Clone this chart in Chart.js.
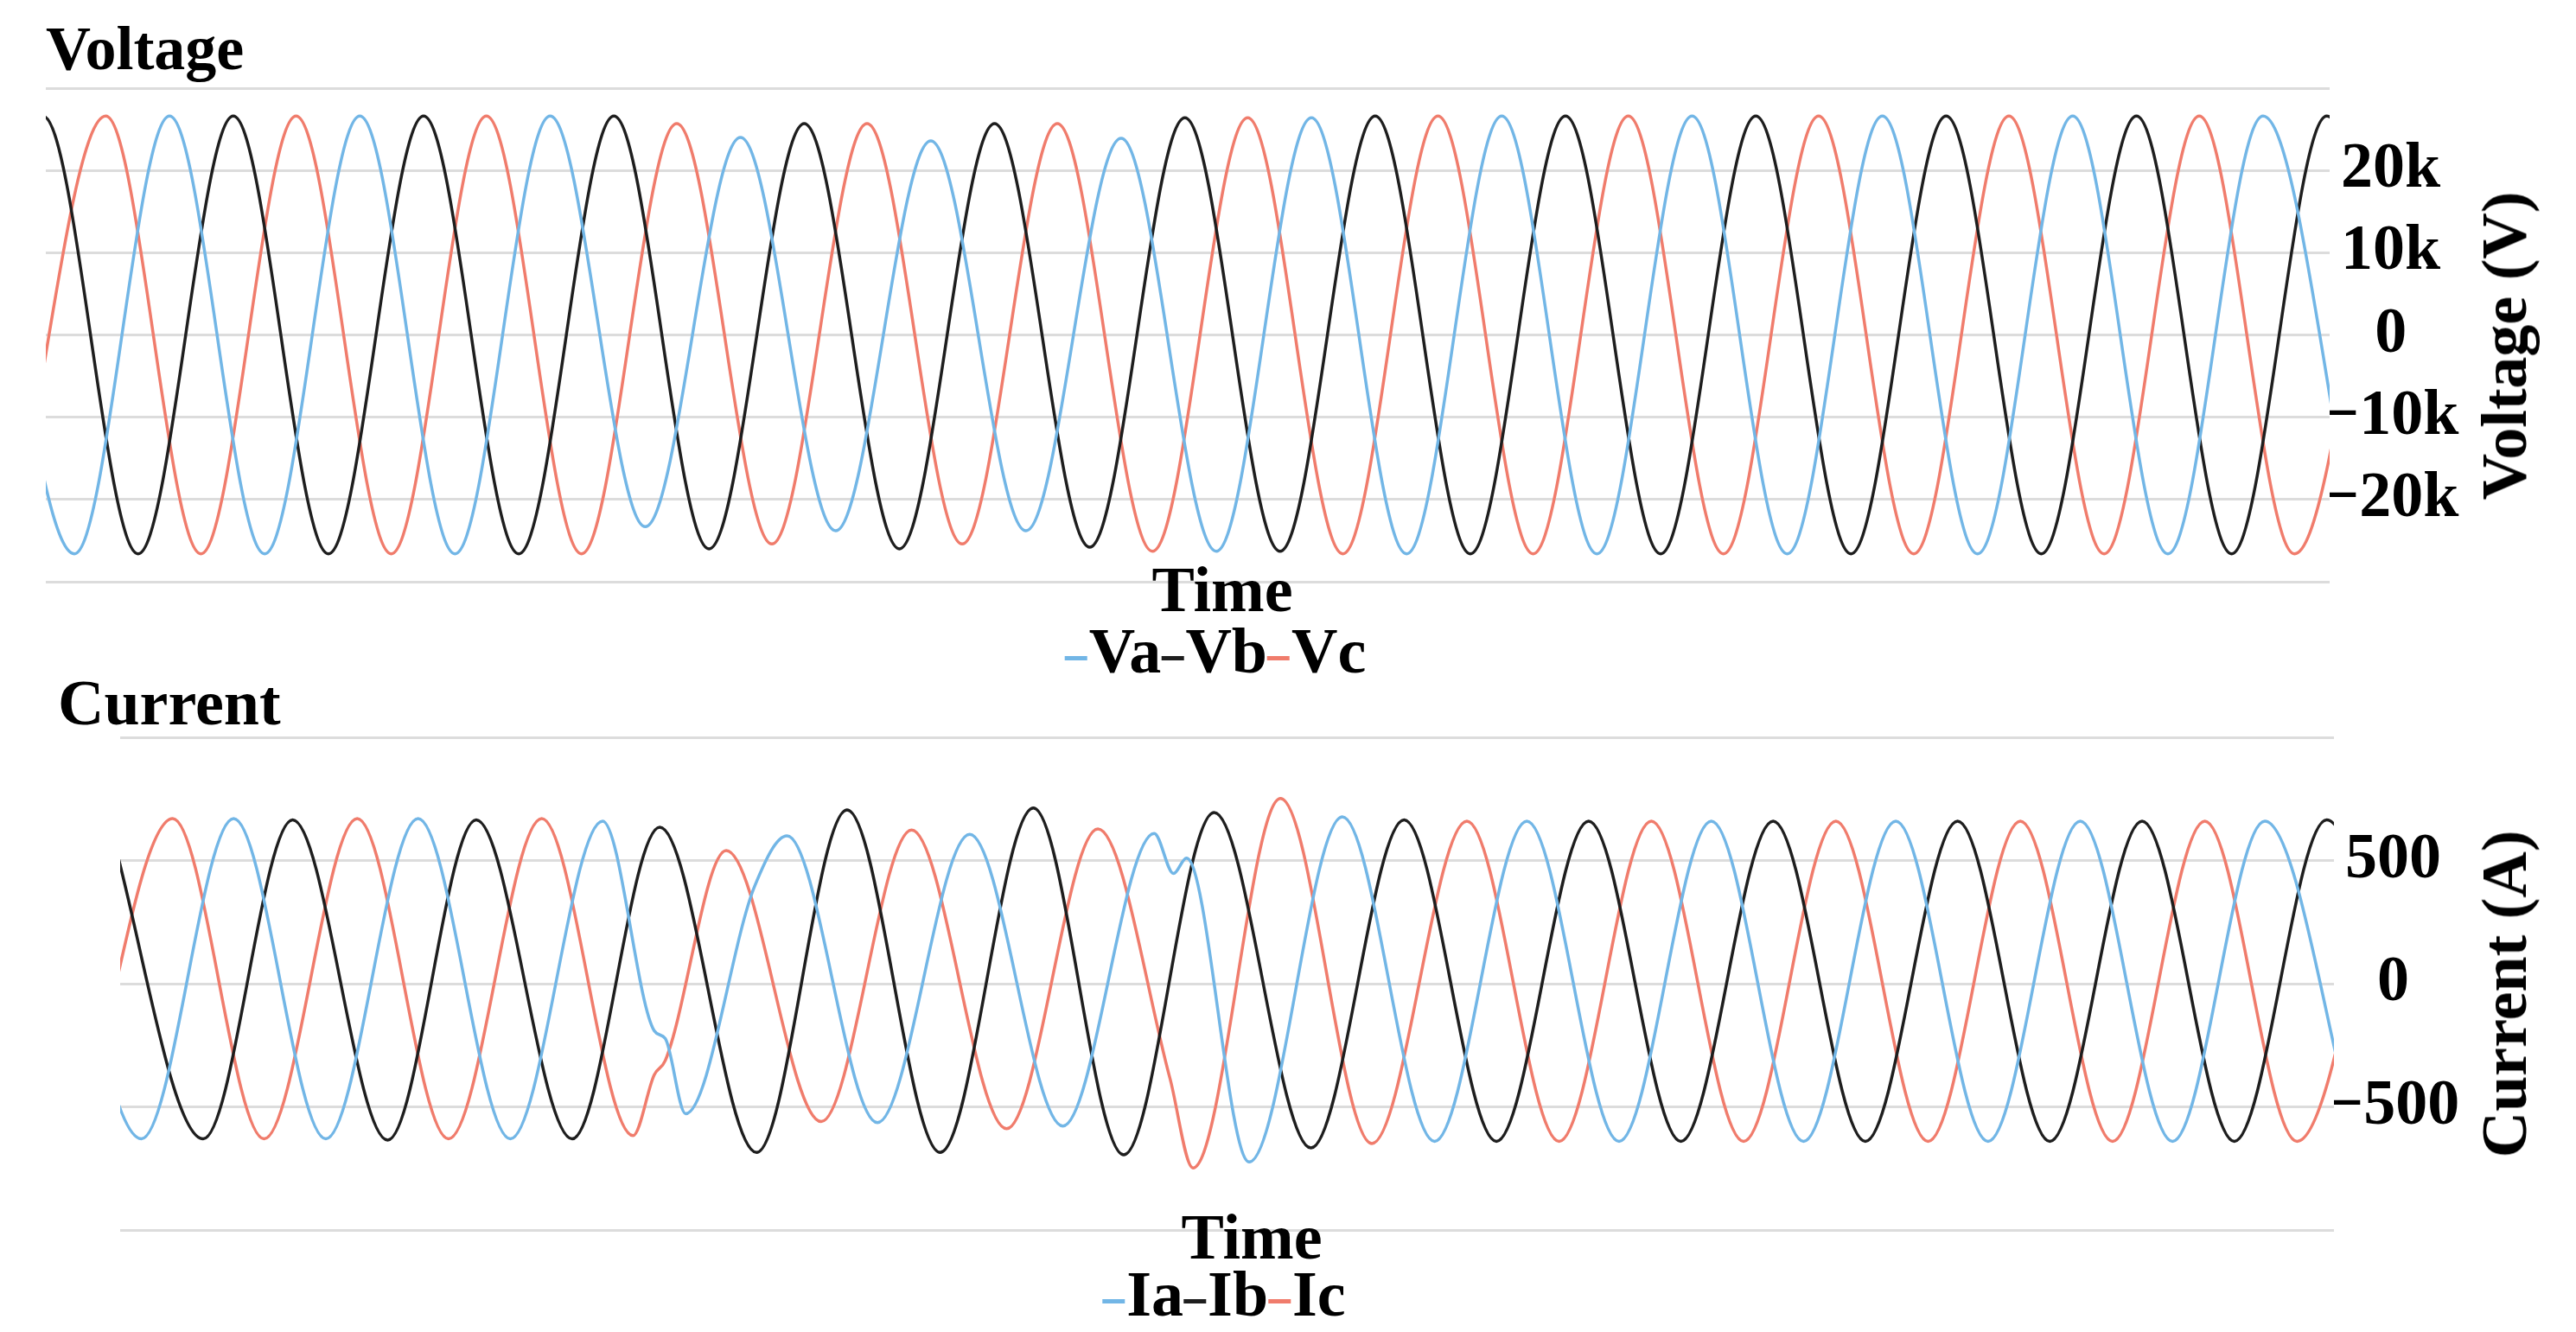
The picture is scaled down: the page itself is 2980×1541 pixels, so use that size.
<!DOCTYPE html>
<html><head><meta charset="utf-8">
<script src="https://cdn.jsdelivr.net/npm/chart.js@4/dist/chart.umd.min.js"></script>
<style>
html,body{margin:0;padding:0;background:#fff;width:2980px;height:1541px;overflow:hidden}
.t{position:absolute;font-family:"Liberation Serif","Times New Roman",serif;font-weight:bold;color:#000;line-height:1;white-space:nowrap}
canvas{position:absolute;left:0}
.leg span.m{display:inline-block;width:26px;height:5px;vertical-align:middle;margin-right:2px}
</style></head><body>
<canvas id="cv" width="2980" height="790" style="top:0"></canvas>
<canvas id="ci" width="2980" height="761" style="top:780px"></canvas>
<div class="t" style="left:53px;top:20px;font-size:72px">Voltage</div>
<div class="t" style="left:1414px;top:645px;font-size:74px;transform:translateX(-50%)">Time</div>
<div class="t leg" id="legV" style="left:1406px;top:716px;font-size:74px;transform:translateX(-50%)"></div>
<div class="t" style="left:2897px;top:400px;font-size:74px;transform:translate(-50%,-50%) rotate(-90deg)">Voltage (V)</div>
<div class="t" style="left:67px;top:776px;font-size:74px">Current</div>
<div class="t" style="left:1448px;top:1394px;font-size:74px;transform:translateX(-50%)">Time</div>
<div class="t leg" id="legI" style="left:1416px;top:1460px;font-size:74px;transform:translateX(-50%)"></div>
<div class="t" style="left:2897px;top:1150px;font-size:74px;transform:translate(-50%,-50%) rotate(-90deg)">Current (A)</div>
<script>
// ---- Voltage extrema (time ms, kV) ----
const vaT=[-7,3,13,23,33,43,53,63,73,83,93,103,113,123,133,143,153,163,173,183,193,203,213,223,233,243];
const vaV=[26.6,-26.6,26.6,-26.6,26.6,-26.6,26.6,-23.3,24.0,-23.8,23.6,-23.8,23.9,-26.3,26.4,-26.6,26.6,-26.6,26.6,-26.6,26.6,-26.6,26.6,-26.6,26.6,-26.6];
const vbT=[-10.3,-0.3,9.7,19.7,29.7,39.7,49.7,59.7,69.7,79.7,89.7,99.7,109.7,119.7,129.7,139.7,149.7,159.7,169.7,179.7,189.7,199.7,209.7,219.7,229.7,239.7,249.7];
const vbV=[-26.6,26.6,-26.6,26.6,-26.6,26.6,-26.6,26.6,-26.0,25.7,-26.0,25.7,-25.8,26.4,-26.3,26.6,-26.6,26.6,-26.6,26.6,-26.6,26.6,-26.6,26.6,-26.6,26.6,-26.6];
const vcT=[-3.7,6.3,16.3,26.3,36.3,46.3,56.3,66.3,76.3,86.3,96.3,106.3,116.3,126.3,136.3,146.3,156.3,166.3,176.3,186.3,196.3,206.3,216.3,226.3,236.3,246.3];
const vcV=[-26.6,26.6,-26.6,26.6,-26.6,26.6,-26.6,25.7,-25.4,25.7,-25.4,25.7,-26.3,26.4,-26.6,26.6,-26.6,26.6,-26.6,26.6,-26.6,26.6,-26.6,26.6,-26.6,26.6];
// ---- Current extrema (time ms, A) ----
const iaT=[-7.7,2.3,12.3,22.3,32.3,42.3,52.3,57.9,59.1,61.3,68.8,72.3,82.1,92.1,102.2,112.1,114.2,115.6,122.4,132.5,142.5,152.5,162.5,172.5,182.5,192.5,202.5,212.5,222.5,232.5,242.5];
const iaV=[670,-630,670,-630,670,-630,660,-191,-223,-528,397,600,-564,606,-578,610,447,510,-724,677,-640,660,-640,660,-640,660,-640,660,-640,660,-640];
const ibT=[-1.3,9,18.7,29,38.6,49,58.5,69,78.8,88.9,99,108.8,118.6,129.1,139.2,149.2,159.2,169.2,179.2,189.2,199.2,209.2,219.2,229.2,239.2,249.2];
const ibV=[665,-630,665,-635,665,-630,635,-685,705,-685,713,-695,695,-667,665,-640,660,-640,660,-640,660,-640,660,-640,665,-640];
const icT=[-4.4,5.7,15.6,25.7,35.6,45.7,55.6,57.9,59.1,65.7,76,85.8,96.1,106,113.8,116.3,125.8,135.7,146,156,166,176,186,196,206,216,226,236,246];
const icV=[-630,670,-630,670,-630,670,-617,-370,-312,540,-560,624,-589,628,-383,-748,752,-649,660,-640,660,-640,660,-640,660,-640,660,-640,660];
const vTicks=[-30000,-20000,-10000,0,10000,20000,30000];
const iTicks=[-1000,-500,0,500,1000];

const BLUE='#72b6e6',BLACK='#1e1e1e',RED='#f07c6c';
const pts=(T,V,s)=>T.map((t,i)=>({x:t,y:V[i]*s}));
function ds(label,T,V,s,c){return {label,data:pts(T,V,s),borderColor:c,backgroundColor:c,borderWidth:3.5,pointRadius:0,cubicInterpolationMode:'monotone',fill:false};}
const fmtV=v=>Math.abs(v)>=30000?'':(v===0?'0':(v<0?'\u2212':'')+Math.abs(v/1000)+'k');
const fmtI=v=>Math.abs(v)>=1000?'':(v<0?'\u2212':'')+Math.abs(v);
function mk(id,sets,lim,ticksArr,fmt,pad,axW){
  new Chart(document.getElementById(id),{type:'line',data:{datasets:sets},
   options:{responsive:false,devicePixelRatio:1,animation:false,
    layout:{padding:pad},
    plugins:{legend:{display:false},title:{display:false},tooltip:{enabled:false}},
    scales:{
     x:{type:'linear',min:0,max:240,display:false},
     y:{position:'right',min:-lim,max:lim,
        afterBuildTicks:s=>{s.ticks=ticksArr.map(v=>({value:v}));},
        afterFit:s=>{s.width=axW;},
        grid:{color:'#dcdcdc',lineWidth:3,drawTicks:false},border:{display:false},
        ticks:{callback:fmt,crossAlign:'center',padding:-8,color:'#000',font:{family:'Liberation Serif',weight:'bold',size:74}}}
    }}});
}
mk('cv',[ds('Va',vaT,vaV,1000,BLUE),ds('Vb',vbT,vbV,1000,BLACK),ds('Vc',vcT,vcV,1000,RED)],30000,vTicks,fmtV,{top:102,left:53,bottom:117,right:0},285);
mk('ci',[ds('Ia',iaT,iaV,1,BLUE),ds('Ib',ibT,ibV,1,BLACK),ds('Ic',icT,icV,1,RED)],1000,iTicks,fmtI,{top:73,left:139,bottom:118,right:0},280);
function leg(id,names){document.getElementById(id).innerHTML=names.map((n,i)=>'<span class="m" style="background:'+[BLUE,BLACK,RED][i]+'"></span>'+n).join('');}
leg('legV',['Va','Vb','Vc']);leg('legI',['Ia','Ib','Ic']);
</script></body></html>
